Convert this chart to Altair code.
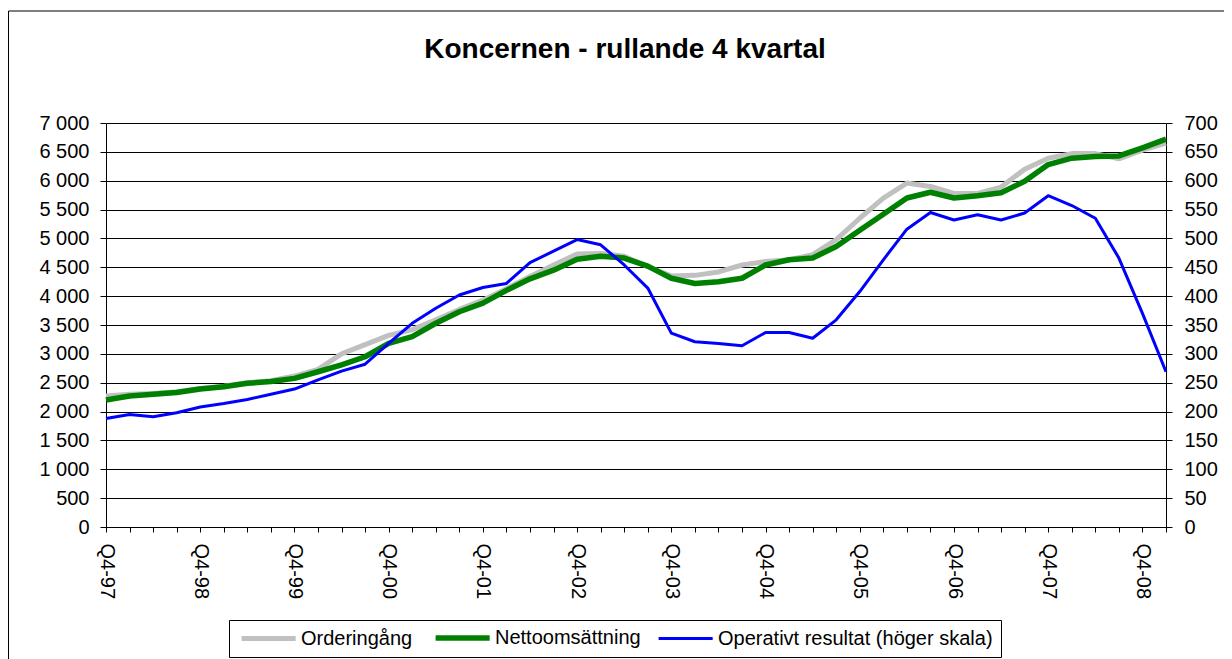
import altair as alt
import pandas as pd

quarters = ["Q4-97", "Q1-98", "Q2-98", "Q3-98", "Q4-98", "Q1-99", "Q2-99", "Q3-99", "Q4-99",
            "Q1-00", "Q2-00", "Q3-00", "Q4-00", "Q1-01", "Q2-01", "Q3-01", "Q4-01",
            "Q1-02", "Q2-02", "Q3-02", "Q4-02", "Q1-03", "Q2-03", "Q3-03", "Q4-03",
            "Q1-04", "Q2-04", "Q3-04", "Q4-04", "Q1-05", "Q2-05", "Q3-05", "Q4-05",
            "Q1-06", "Q2-06", "Q3-06", "Q4-06", "Q1-07", "Q2-07", "Q3-07", "Q4-07",
            "Q1-08", "Q2-08", "Q3-08", "Q4-08", "Q1-09"]

orderingang = [2270, 2300, 2315, 2345, 2400, 2440, 2500, 2535, 2615, 2730, 3000, 3160,
               3320, 3420, 3590, 3770, 3930, 4130, 4340, 4540, 4730, 4740, 4690, 4510,
               4350, 4360, 4420, 4540, 4600, 4630, 4720, 4980, 5350, 5700, 5960, 5900,
               5780, 5780, 5890, 6200, 6390, 6470, 6470, 6380, 6530, 6650]

nettoomsattning = [2200, 2270, 2300, 2330, 2390, 2430, 2490, 2520, 2575, 2690, 2810, 2950,
                   3180, 3300, 3530, 3730, 3880, 4100, 4300, 4450, 4640, 4690, 4660, 4520,
                   4310, 4220, 4250, 4310, 4540, 4630, 4660, 4860, 5140, 5420, 5700, 5800,
                   5700, 5740, 5790, 5990, 6280, 6390, 6420, 6430, 6570, 6720]

operativt = [188, 195, 191, 198, 208, 214, 221, 230, 239, 255, 270, 282,
             318, 353, 379, 402, 415, 422, 458, 478, 498, 489, 454, 414,
             336, 321, 318, 314, 337, 337, 327, 359, 408, 463, 516, 545,
             532, 541, 532, 544, 574, 557, 535, 466, 370, 269]

series_names = ["Orderingång", "Nettoomsättning", "Operativt resultat (höger skala)"]
series_colors = ["#C0C0C0", "#008000", "#0000FF"]
series_widths = [5, 5.5, 3]
title_text = "Koncernen - rullande 4 kvartal"

left_ticks = list(range(0, 7001, 500))
right_ticks = list(range(0, 701, 50))

rows = []
for name, vals in zip(series_names, [orderingang, nettoomsattning, operativt]):
    for q, v in zip(quarters, vals):
        rows.append({"quarter": q, "series": name, "value": v})
df = pd.DataFrame(rows)
one = pd.DataFrame({"a": [0]})

FONT = "Liberation Sans"

# long horizontal line symbol drawn from a small nominal symbol size
legend = alt.Legend(
    title=None, orient="none", legendX=123, legendY=497, direction="horizontal",
    symbolType="M-1,0H9", symbolSize=117, labelFontSize=20, labelFont=FONT,
    labelColor="black", strokeColor="black", fillColor="white", padding=8,
    columnPadding=11, labelOffset=44, labelLimit=500,
)

x_enc = alt.X(
    "quarter:N",
    scale=alt.Scale(type="point", padding=0, domain=quarters),
    axis=alt.Axis(
        title=None, labelAngle=90, tickSize=5, labelPadding=11, labelOverlap=False,
        labelExpr="indexof(datum.label, 'Q4') == 0 ? datum.label : ''",
        domainColor="black", tickColor="black", grid=False,
    ),
)
color_enc = alt.Color("series:N", scale=alt.Scale(domain=series_names, range=series_colors), legend=legend)
width_enc = alt.StrokeWidth("series:N", scale=alt.Scale(type="ordinal", domain=series_names, range=series_widths), legend=legend)

y_left = alt.Y(
    "value:Q",
    scale=alt.Scale(domain=[0, 7000], nice=False),
    axis=alt.Axis(
        title=None, orient="left", values=left_ticks, tickSize=6, labelPadding=11,
        labelExpr="replace(format(datum.value, ','), ',', ' ')", labelOverlap=False,
        grid=True, gridColor="black", gridWidth=1, domainColor="black", tickColor="black",
    ),
)
y_right = alt.Y(
    "value:Q",
    scale=alt.Scale(domain=[0, 700], nice=False),
    axis=alt.Axis(
        title=None, orient="right", values=right_ticks, tickSize=6, labelPadding=12,
        labelOverlap=False, grid=False, domainColor="black", tickColor="black",
    ),
)

base = alt.Chart(df).mark_line(strokeJoin="round").encode(x=x_enc, color=color_enc, strokeWidth=width_enc)

gray = base.transform_filter(alt.datum.series == series_names[0]).encode(y=y_left)
green = base.transform_filter(alt.datum.series == series_names[1]).encode(y=y_left)
blue = base.transform_filter(alt.datum.series == series_names[2]).encode(y=y_right)

left_border = alt.Chart(one).mark_rule(color="black", strokeWidth=1).encode(
    x=alt.value(-97.5), y=alt.value(-112), y2=alt.value(540))
top_border = alt.Chart(one).mark_rule(color="black", strokeWidth=1).encode(
    x=alt.value(-97.5), x2=alt.value(1125), y=alt.value(-112))
title = alt.Chart(one).mark_text(
    text=title_text, font=FONT, fontSize=28, fontWeight="bold",
    align="center", baseline="alphabetic", color="black",
).encode(x=alt.value(519), y=alt.value(-65))

inner = alt.layer(gray, green)
chart = alt.layer(inner, blue, left_border, top_border, title).resolve_scale(y="independent").properties(
    width=1060, height=404,
    padding={"left": 98, "top": 115, "right": 58, "bottom": 132},
    autosize=alt.AutoSizeParams(type="none"),
).configure(font=FONT).configure_view(stroke=None).configure_axis(
    labelFont=FONT, labelFontSize=20, labelColor="black",
)

chart.save("out.html", embed_options={"renderer": "svg", "actions": False})
